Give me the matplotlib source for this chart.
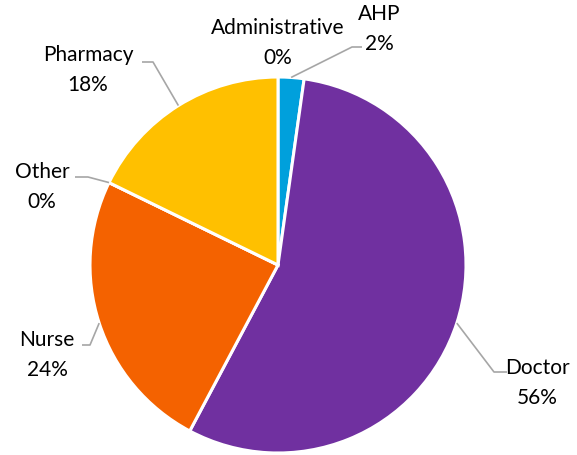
import numpy as np
import matplotlib.pyplot as plt

plt.rcParams['font.family'] = ['Lato', 'DejaVu Sans']

# staff groups, clockwise from 12 o'clock
groups = ["Administrative", "AHP", "Doctor", "Nurse", "Other", "Pharmacy"]
counts = [0, 1, 25, 11, 0, 8]
colors = ["#4472C4", "#00A0DC", "#7030A0", "#F46200", "#A5A5A5", "#FFC000"]

W, H = 577, 455
fig = plt.figure(figsize=(W / 100, H / 100), dpi=100)
ax = fig.add_axes([0, 0, 1, 1])

cx, cy, r = 278, H - 265, 188
wedges, _ = ax.pie(counts, colors=colors, startangle=90, counterclock=False,
                   center=(cx, cy), radius=r, frame=True,
                   wedgeprops=dict(edgecolor="white", linewidth=2.2))
ax.set_xlim(0, W)
ax.set_ylim(0, H)
ax.set_aspect("equal")
ax.axis("off")

total = sum(counts)
# label block centre (px, from top) and leader elbow (px) per label
label_pos = {
    "Administrative": ((278, 43), None),
    "AHP": ((379, 29), (352, 47, 362)),
    "Doctor": ((537, 383), (494, 372, 507)),
    "Nurse": ((47, 355), (90, 345, 82)),
    "Other": ((42, 187), (88, 177, 75)),
    "Pharmacy": ((88, 70), (153, 62, 142)),
}

for w, name, c in zip(wedges, groups, counts):
    pct = 100 * c / total
    (tx, ty), elbow = label_pos[name]
    ax.text(tx, H - ty, f"{name}\n{pct:.0f}%", ha="center", va="center",
            fontsize=15, color="#000000", linespacing=1.6)
    if elbow is None:
        continue
    mid = np.deg2rad((w.theta1 + w.theta2) / 2)
    ax_, ay_ = cx + r * np.cos(mid), cy + r * np.sin(mid)
    ex, ey, hx = elbow
    ax.plot([ax_, ex, hx], [ay_, H - ey, H - ey], color="#A6A6A6", lw=1.2,
            solid_capstyle="butt")

fig.savefig("out.png", dpi=100)
